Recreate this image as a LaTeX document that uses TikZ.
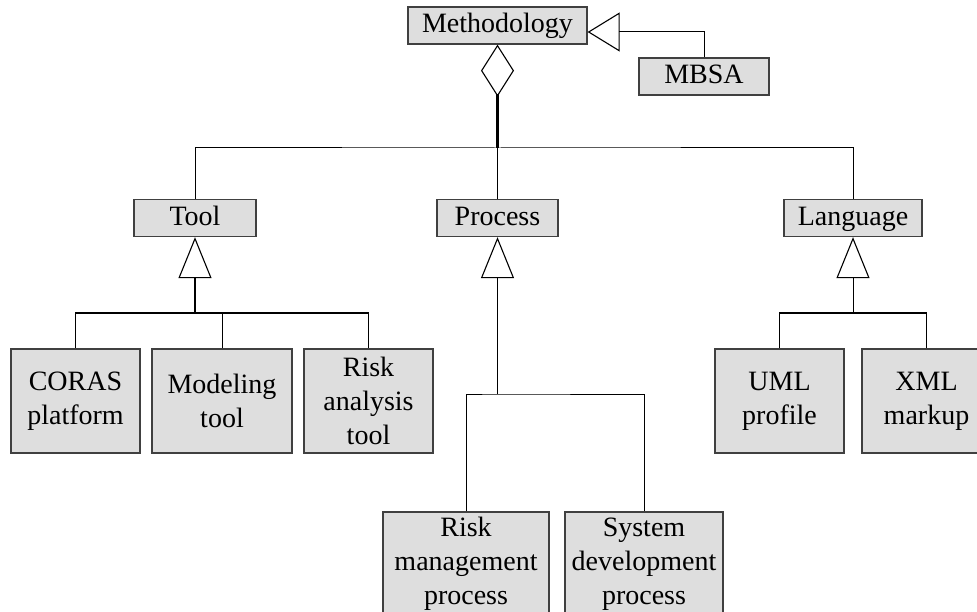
\documentclass[tikz,border=0pt]{standalone}
\usepackage{fontspec}
\setmainfont{Liberation Serif}
\usetikzlibrary{arrows.meta}
\begin{document}
\begin{tikzpicture}[x=1pt,y=-1pt,
    box/.style={draw=black!75,fill=black!13,line width=1.3pt,align=center,inner sep=0pt,
        font=\fontsize{28}{34}\selectfont},
    lab/.style={box,minimum height=37,text height=21pt,text depth=6pt},
    link/.style={draw,line width=1pt},
    bold/.style={draw,line width=2.6pt},
    inh/.style={-{Triangle[open,length=41pt,width=33pt,line width=1.1pt]}}]
\clip (0,0) rectangle (977,612);
\node[lab,minimum width=179] at (497.5,25.5)(meth){Methodology};
\node[lab,minimum width=130] at (704,76.5)(mbsa){MBSA};
\node[lab,minimum width=122] at (195,218)(tool){Tool};
\node[lab,minimum width=121] at (497.5,218)(proc){Process};
\node[lab,minimum width=138] at (853,218)(lang){Language};
\node[box,minimum width=129,minimum height=104] at (75.5,401)(coras){CORAS\\platform};
\node[box,minimum width=140,minimum height=104] at (222,401)(model){Modeling\\tool};
\node[box,minimum width=129,minimum height=104] at (368.5,401)(risk){Risk\\analysis\\tool};
\node[box,minimum width=129,minimum height=104] at (779.5,401)(uml){UML\\profile};
\node[box,minimum width=129,minimum height=104] at (926.5,401)(xml){XML\\markup};
\node[box,minimum width=166,minimum height=104] at (466,564)(riskmgmt){Risk\\management\\process};
\node[box,minimum width=158,minimum height=104] at (644,564)(sysdev){System\\development\\process};
\coordinate (top) at (497.5,148);
\coordinate (tj) at (195,313);
\coordinate (pj) at (497.5,394);
\coordinate (lj) at (853,313);
% composition and generalisation
\path[bold,{Diamond[open,length=52pt,width=33pt,line width=1.1pt]}-] (meth) -- (top);
\path[link] (tool) |- (top) -| (lang);
\path[link] (top) -- (proc);
\path[link,-{Triangle[open,length=32pt,width=39pt,line width=1.1pt]}] (mbsa) |- ([yshift=-6.5pt]meth.east);
% tools
\path[bold,inh] (tj) -- (tool);
\path[link] (coras) |- (tj) -| (risk);
\path[link] (model) -- (model |- tj);
% processes
\path[link,inh] (pj) -- (proc);
\path[link] (riskmgmt) |- (pj) -| (sysdev);
% languages
\path[link,inh] (lj) -- (lang);
\path[link] (uml) |- (lj) -| (xml);
\end{tikzpicture}
\end{document}
